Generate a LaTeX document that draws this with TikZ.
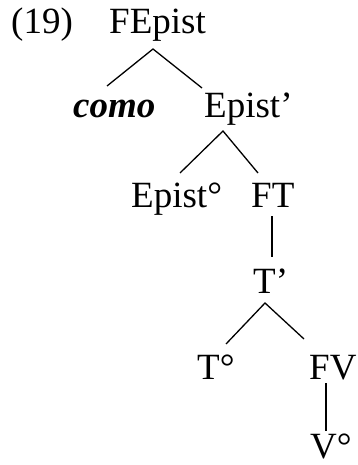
\documentclass[tikz,border=0pt]{standalone}
\usepackage{fontspec}
\setmainfont{Liberation Serif}
\usetikzlibrary{calc}
\begin{document}
\begin{tikzpicture}[x=1pt,y=-1pt,
  lab/.style={inner sep=0pt, anchor=base west, font=\fontsize{37}{40}\selectfont},
  edge/.style={line width=1.3pt}]
\useasboundingbox (0,0) rectangle (358,465);
\node[lab] (num) at (11,34) {(19)};
\node[lab] (fe) at (109,34) {FEpist};
\node[lab, font=\fontsize{37}{40}\selectfont\bfseries\itshape] (como) at (73,118) {como};
\node[lab] (ep) at (204,118) {Epist’};
\node[lab] (e0) at (131,207) {Epist°};
\node[lab] (ft) at (251,207) {FT};
\node[lab] (tb) at (253,293) {T’};
\node[lab] (t0) at (197,379) {T°};
\node[lab] (fv) at (309,379) {FV};
\node[lab] (v0) at (310,458) {V°};
\draw[edge] ($(como.base west)+(34,-32)$) -- ($(fe.base west)+(44,15)$) -- ($(ep.base west)+(-2,-30)$);
\draw[edge] ($(e0.base west)+(49,-34)$) -- ($(ep.base west)+(19,13)$) -- ($(ft.base west)+(7,-34)$);
\draw[edge] ($(ft.base west)+(21,9)$) -- ($(tb.base west)+(19,-36)$);
\draw[edge] ($(t0.base west)+(29,-35)$) -- ($(tb.base west)+(12,10)$) -- ($(fv.base west)+(-5,-40)$);
\draw[edge] ($(fv.base west)+(17,4)$) -- ($(v0.base west)+(16,-27)$);
\end{tikzpicture}
\end{document}
